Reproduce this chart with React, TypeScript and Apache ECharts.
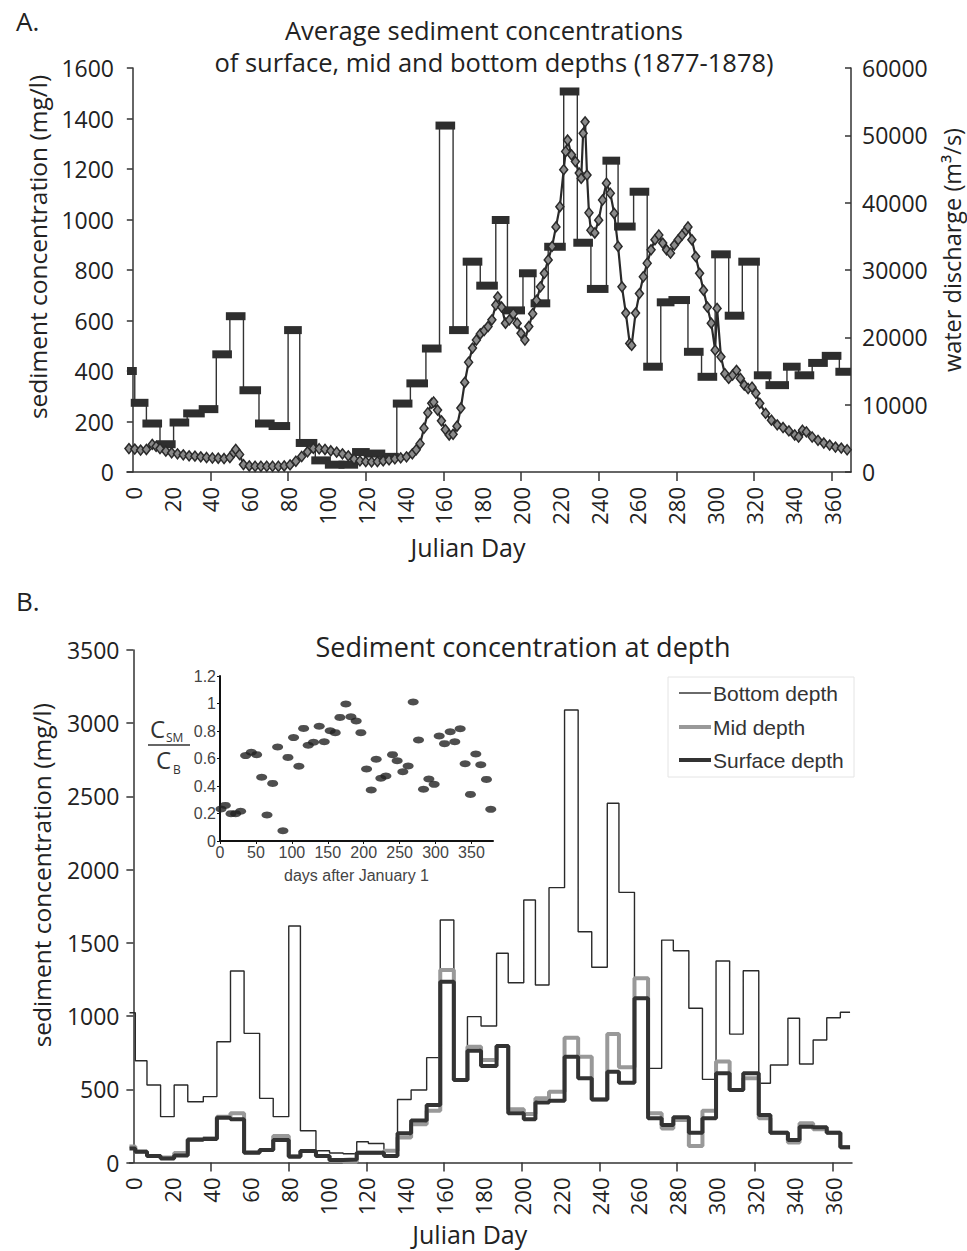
import React, { useEffect, useRef } from "react";
import * as echarts from "echarts";

// ---- weekly sampling (start day of each weekly average) ----
const weekStart = [-2, 1, 7, 14, 21, 28, 36, 43, 50, 57, 65, 72, 80, 86, 94, 101, 108, 115, 121, 129, 136, 143, 151, 158, 165, 172, 179, 187, 193, 201, 207, 214, 222, 229, 236, 244, 250, 258, 265, 272, 278, 286, 293, 300, 307, 314, 322, 328, 337, 343, 350, 357, 364];
const lastDay = 369;

// Panel A: average sediment concentration (mg/l)
const sedAvg = [400, 274, 192, 110, 196, 232, 249, 466, 617, 324, 192, 182, 562, 115, 46, 29, 29, 79, 73, 60, 271, 351, 489, 1372, 562, 833, 738, 998, 640, 787, 668, 892, 1507, 908, 725, 1233, 972, 1110, 417, 672, 681, 476, 377, 862, 619, 833, 383, 344, 417, 383, 432, 460, 397];

// Panel B: concentration at depth (mg/l)
const bottomDepth = [1023, 695, 529, 313, 529, 415, 450, 825, 1308, 882, 438, 313, 1615, 217, 80, 65, 60, 142, 130, 85, 430, 495, 716, 1656, 563, 996, 932, 1429, 1228, 1793, 1212, 1877, 3090, 1576, 1333, 2453, 1845, 1258, 643, 1519, 1446, 1053, 568, 1376, 877, 1310, 541, 666, 985, 673, 837, 989, 1026];
const midDepth = [110, 75, 44, 35, 65, 158, 165, 313, 336, 70, 85, 181, 45, 78, 44, 12, 5, 67, 67, 80, 170, 262, 354, 1315, 563, 791, 700, 796, 364, 331, 438, 484, 852, 722, 431, 877, 650, 1258, 336, 233, 291, 113, 354, 689, 495, 575, 302, 204, 136, 268, 227, 204, 104];
const surfaceDepth = [95, 74, 44, 28, 48, 155, 160, 306, 295, 67, 85, 154, 40, 78, 44, 17, 20, 67, 67, 44, 200, 286, 393, 1235, 563, 764, 659, 796, 336, 295, 409, 422, 723, 575, 431, 620, 545, 1121, 302, 256, 309, 204, 302, 609, 495, 609, 324, 204, 154, 245, 240, 204, 104];

// Panel A: water discharge (m3/s)
const dischargeDay = [-2, 1, 4, 7, 10, 12, 14, 17, 20, 23, 26, 29, 32, 35, 38, 41, 44, 47, 50, 52, 53, 55, 57, 60, 63, 66, 69, 72, 75, 78, 81, 84, 87, 90, 93, 96, 99, 102, 105, 108, 111, 114, 117, 120, 123, 126, 129, 132, 135, 138, 141, 144, 146, 148, 150, 152, 154, 155, 157, 159, 161, 163, 165, 167, 169, 171, 173, 175, 177, 179, 181, 183, 185, 187, 188, 190, 192, 194, 196, 198, 200, 202, 204, 206, 208, 210, 212, 214, 216, 218, 220, 222, 223, 224, 226, 228, 230, 231, 232, 233, 234, 235, 236, 238, 240, 242, 244, 246, 248, 250, 252, 254, 256, 257, 259, 261, 263, 265, 267, 269, 271, 273, 275, 277, 279, 281, 283, 285, 286, 288, 290, 292, 294, 296, 298, 300, 301, 303, 305, 307, 309, 311, 313, 315, 317, 319, 321, 323, 326, 329, 332, 335, 338, 341, 343, 345, 347, 350, 353, 356, 359, 362, 365, 368];
const dischargeVal = [3480, 3400, 3250, 3350, 4100, 3800, 3480, 3100, 2850, 2700, 2550, 2400, 2350, 2250, 2150, 2080, 2050, 2000, 2150, 2900, 3350, 2600, 1100, 900, 850, 850, 850, 850, 850, 900, 1050, 1600, 2300, 3000, 3500, 3450, 3350, 3150, 2950, 2700, 2400, 1900, 1650, 1550, 1500, 1550, 1650, 1800, 1950, 2100, 2250, 2700, 3300, 4200, 6500, 8800, 10200, 10400, 9200, 7600, 6300, 5500, 5600, 6800, 9500, 13300, 16300, 18400, 19600, 20500, 21000, 21600, 22600, 24800, 26000, 24500, 22100, 22600, 23500, 22100, 20600, 19600, 21600, 23500, 25500, 27500, 29500, 31500, 33500, 36400, 39400, 44900, 47600, 49300, 47100, 46100, 44400, 43600, 50300, 52000, 44100, 38500, 35900, 35500, 37400, 40400, 42900, 41400, 38400, 33500, 27500, 23600, 19100, 18800, 23600, 26500, 29000, 31000, 33000, 34500, 35200, 34000, 33000, 32500, 33700, 34500, 35200, 35900, 36400, 34500, 32000, 29500, 27000, 24500, 22100, 18100, 24300, 17100, 14600, 13900, 14400, 15100, 13900, 12900, 12400, 12600, 11700, 10200, 8700, 7700, 7000, 6600, 6100, 5500, 5200, 6200, 5950, 5200, 4700, 4300, 4000, 3700, 3550, 3300];

// Inset: C_SM / C_B ratio
const ratioDay = [1.4, 7.4, 15.3, 21.8, 28.7, 35.7, 43.6, 51, 58, 65.4, 73.3, 80.2, 87.6, 94.6, 102.4, 109.8, 116.4, 122.8, 130.2, 138.1, 145.1, 153.4, 160.4, 166.9, 175.2, 182.2, 189.6, 196.1, 204, 210.5, 217.4, 223.9, 230.9, 240.1, 246.6, 254.5, 261.9, 268.9, 276.3, 283.3, 290.7, 298.1, 305.1, 312.5, 320.4, 326.8, 334.3, 341.2, 348.6, 356.1, 363, 370.9, 376.9];
const ratioVal = [0.233, 0.259, 0.199, 0.199, 0.216, 0.621, 0.645, 0.628, 0.463, 0.189, 0.419, 0.684, 0.075, 0.608, 0.752, 0.543, 0.819, 0.696, 0.718, 0.834, 0.722, 0.802, 0.788, 0.899, 0.996, 0.904, 0.873, 0.788, 0.524, 0.371, 0.594, 0.456, 0.473, 0.628, 0.584, 0.504, 0.545, 1.011, 0.735, 0.376, 0.451, 0.412, 0.764, 0.708, 0.795, 0.722, 0.817, 0.562, 0.339, 0.633, 0.555, 0.448, 0.23];

const dayLabels = [0, 20, 40, 60, 80, 100, 120, 140, 160, 180, 200, 220, 240, 260, 280, 300, 320, 340, 360];
const dayTicks = [40, 80, 120, 160, 200, 240, 280, 320, 360];
const insetDayLabels = [0, 50, 100, 150, 200, 250, 300, 350];
const legendNames = ["Bottom depth", "Mid depth", "Surface depth"];

const FONT = "Open Sans";
const AX = "#333";
const TXT = "#222";
const plain = (v: number) => String(v);

function stepData(vals: number[]) {
  const d: number[][] = weekStart.map((s, i) => [s, vals[i]]);
  d.push([lastDay, vals[vals.length - 1]]);
  return d;
}

export default function App() {
  const ref = useRef<HTMLDivElement>(null);
  useEffect(() => {
    if (!ref.current) return;
    const chart = echarts.init(ref.current, null, { renderer: "svg" });

    const barData = weekStart.map((s, i) => [s, i < weekStart.length - 1 ? weekStart[i + 1] - 1 : lastDay, sedAvg[i]]);

    const dayAxisCommon = (min: number, nameGap: number) => ({
      type: "value",
      min,
      max: 370,
      name: "Julian Day",
      nameLocation: "middle",
      nameGap,
      nameTextStyle: { fontSize: 25, color: TXT, fontFamily: FONT, padding: [0, 42, 0, 0] },
      axisLine: { show: true, lineStyle: { color: AX, width: 1.5 } },
      axisTick: { show: true, customValues: dayTicks, length: 9, lineStyle: { color: AX, width: 1.5 } },
      axisLabel: { customValues: dayLabels, rotate: 90, fontSize: 22, color: TXT, fontFamily: FONT, margin: 15, formatter: plain },
      splitLine: { show: false },
    });

    const legendY = [693, 727, 760];
    const legendStyles = [
      { stroke: "#2a2a2a", lineWidth: 1.4 },
      { stroke: "#999", lineWidth: 4 },
      { stroke: "#333", lineWidth: 4 },
    ];
    const legendGraphics: any[] = [
      { type: "rect", shape: { x: 668, y: 677, width: 186, height: 100 }, style: { fill: "#fff", stroke: "#e4e4e4", lineWidth: 1 }, z: 10 },
    ];
    legendNames.forEach((n, i) => {
      legendGraphics.push({ type: "line", shape: { x1: 679, y1: legendY[i], x2: 711, y2: legendY[i] }, style: legendStyles[i], z: 11 });
      legendGraphics.push({ type: "text", x: 713, y: legendY[i], style: { text: n, fontSize: 21, fill: "#333", fontFamily: "Liberation Sans", verticalAlign: "middle" }, z: 11 });
    });

    const option: any = {
      animation: false,
      textStyle: { fontFamily: FONT },
      grid: [
        { left: 127, top: 68, width: 724, height: 404, containLabel: false, outerBoundsMode: "none" },
        { left: 129.5, top: 650, width: 722.5, height: 512.5, containLabel: false, outerBoundsMode: "none" },
        { left: 220, top: 676, width: 273, height: 165, containLabel: false, outerBoundsMode: "none" },
      ],
      xAxis: [
        { gridIndex: 0, ...dayAxisCommon(-3, 62) },
        { gridIndex: 1, ...dayAxisCommon(-2, 59) },
        {
          gridIndex: 2,
          type: "value",
          min: 0,
          max: 380,
          name: "days after January 1",
          nameLocation: "middle",
          nameGap: 26,
          nameTextStyle: { fontSize: 16, color: "#444", fontFamily: "Liberation Sans" },
          axisLine: { show: true, lineStyle: { color: "#111", width: 2 } },
          axisTick: { show: true, customValues: insetDayLabels, length: 3, lineStyle: { color: "#111" } },
          axisLabel: { customValues: insetDayLabels, fontSize: 16, color: "#444", fontFamily: "Liberation Sans", margin: 3 },
          splitLine: { show: false },
        },
      ],
      yAxis: [
        {
          gridIndex: 0,
          type: "value",
          min: 0,
          max: 1600,
          interval: 200,
          name: "sediment concentration (mg/l)",
          nameLocation: "middle",
          nameRotate: 90,
          nameGap: 77,
          nameTextStyle: { fontSize: 24.5, color: TXT, fontFamily: FONT, padding: [0, 0, 0, 46] },
          axisLine: { show: true, lineStyle: { color: AX, width: 1.5 } },
          axisTick: { show: true, length: 6, lineStyle: { color: AX, width: 1.5 } },
          axisLabel: { fontSize: 23, color: TXT, fontFamily: FONT, margin: 13, formatter: plain },
          splitLine: { show: false },
        },
        {
          gridIndex: 0,
          type: "value",
          position: "right",
          min: 0,
          max: 60000,
          interval: 10000,
          name: "water discharge (m³/s)",
          nameLocation: "middle",
          nameRotate: 90,
          nameGap: 89,
          nameTextStyle: { fontSize: 23.5, color: TXT, fontFamily: FONT, padding: [0, 0, 0, 40] },
          axisLine: { show: true, lineStyle: { color: AX, width: 1.5 } },
          axisTick: { show: true, inside: true, length: 6, lineStyle: { color: AX, width: 1.5 } },
          axisLabel: { fontSize: 23, color: TXT, fontFamily: FONT, margin: 11, formatter: plain },
          splitLine: { show: false },
        },
        {
          gridIndex: 1,
          type: "value",
          min: 0,
          max: 3500,
          interval: 500,
          name: "sediment concentration (mg/l)",
          nameLocation: "middle",
          nameRotate: 90,
          nameGap: 76,
          nameTextStyle: { fontSize: 24.5, color: TXT, fontFamily: FONT, padding: [0, 0, 0, 62] },
          axisLine: { show: true, lineStyle: { color: AX, width: 1.5 } },
          axisTick: { show: true, length: 7, lineStyle: { color: AX, width: 1.5 } },
          axisLabel: { fontSize: 23, color: TXT, fontFamily: FONT, margin: 10, formatter: plain },
          splitLine: { show: false },
        },
        {
          gridIndex: 2,
          type: "value",
          min: 0,
          max: 1.2,
          interval: 0.2,
          axisLine: { show: true, lineStyle: { color: "#111", width: 2 } },
          axisTick: { show: true, length: 3, lineStyle: { color: "#111" } },
          axisLabel: { fontSize: 16, color: "#444", fontFamily: "Liberation Sans", margin: 4 },
          splitLine: { show: false },
        },
      ],
      series: [
        {
          name: "Average sediment",
          type: "line",
          xAxisIndex: 0,
          yAxisIndex: 0,
          step: "end",
          symbol: "none",
          data: stepData(sedAvg),
          lineStyle: { color: "#333", width: 1.4 },
          z: 3,
        },
        {
          name: "Average sediment bars",
          type: "custom",
          xAxisIndex: 0,
          yAxisIndex: 0,
          clip: true,
          data: barData,
          z: 4,
          renderItem: (params: any, api: any) => {
            const s = api.coord([api.value(0), api.value(2)]);
            const e = api.coord([api.value(1), api.value(2)]);
            return {
              type: "rect",
              shape: { x: s[0] - 4, y: s[1] - 4, width: e[0] - s[0] + 8, height: 8 },
              style: { fill: "#2e2e2e" },
            };
          },
        },
        {
          name: "Water discharge",
          type: "line",
          xAxisIndex: 0,
          yAxisIndex: 1,
          symbol: "diamond",
          symbolSize: [8, 10],
          data: dischargeDay.map((d, i) => [d, dischargeVal[i]]),
          lineStyle: { color: "#2a2a2a", width: 2.2 },
          itemStyle: { color: "#8a8a8a", borderColor: "#2a2a2a", borderWidth: 1.5 },
          z: 5,
        },
        {
          name: "Bottom depth",
          type: "line",
          xAxisIndex: 1,
          yAxisIndex: 2,
          step: "end",
          symbol: "none",
          data: stepData(bottomDepth),
          lineStyle: { color: "#2a2a2a", width: 1.4 },
          z: 3,
        },
        {
          name: "Mid depth",
          type: "line",
          xAxisIndex: 1,
          yAxisIndex: 2,
          step: "end",
          symbol: "none",
          data: stepData(midDepth),
          lineStyle: { color: "#999", width: 4 },
          z: 4,
        },
        {
          name: "Surface depth",
          type: "line",
          xAxisIndex: 1,
          yAxisIndex: 2,
          step: "end",
          symbol: "none",
          data: stepData(surfaceDepth),
          lineStyle: { color: "#333", width: 4 },
          z: 5,
        },
        {
          name: "Ratio",
          type: "scatter",
          xAxisIndex: 2,
          yAxisIndex: 3,
          symbol: "circle",
          symbolSize: [11, 7],
          data: ratioDay.map((d, i) => [d, ratioVal[i]]),
          itemStyle: { color: "#222" },
          z: 6,
        },
      ],
      graphic: [
        { type: "text", left: 16, top: 8, style: { text: "A.", fontSize: 26, fill: TXT, fontFamily: FONT } },
        { type: "text", left: 16, top: 588, style: { text: "B.", fontSize: 26, fill: TXT, fontFamily: FONT } },
        { type: "text", x: 484, y: 30, style: { text: "Average sediment concentrations", fontSize: 25.5, fill: TXT, fontFamily: FONT, align: "center", verticalAlign: "middle" } },
        { type: "text", x: 494, y: 62, style: { text: "of surface, mid and bottom depths (1877-1878)", fontSize: 25.5, fill: TXT, fontFamily: FONT, align: "center", verticalAlign: "middle" } },
        { type: "text", x: 523, y: 646, style: { text: "Sediment concentration at depth", fontSize: 27, fill: TXT, fontFamily: FONT, align: "center", verticalAlign: "middle" } },
        { type: "text", x: 150, y: 716, style: { text: "C", fontSize: 24, fill: "#333", fontFamily: "Open Sans" } },
        { type: "text", x: 166, y: 731, style: { text: "SM", fontSize: 12, fill: "#333", fontFamily: "Open Sans" } },
        { type: "line", shape: { x1: 148, y1: 745, x2: 190, y2: 745 }, style: { stroke: "#333", lineWidth: 1.3 } },
        { type: "text", x: 156, y: 747, style: { text: "C", fontSize: 24, fill: "#333", fontFamily: "Open Sans" } },
        { type: "text", x: 173, y: 763, style: { text: "B", fontSize: 12, fill: "#333", fontFamily: "Open Sans" } },
        ...legendGraphics,
      ],
    };
    chart.setOption(option);
    return () => chart.dispose();
  }, []);
  return <div ref={ref} style={{ position: "absolute", left: 0, top: 0, width: 967, height: 1251, background: "#fff" }} />;
}
